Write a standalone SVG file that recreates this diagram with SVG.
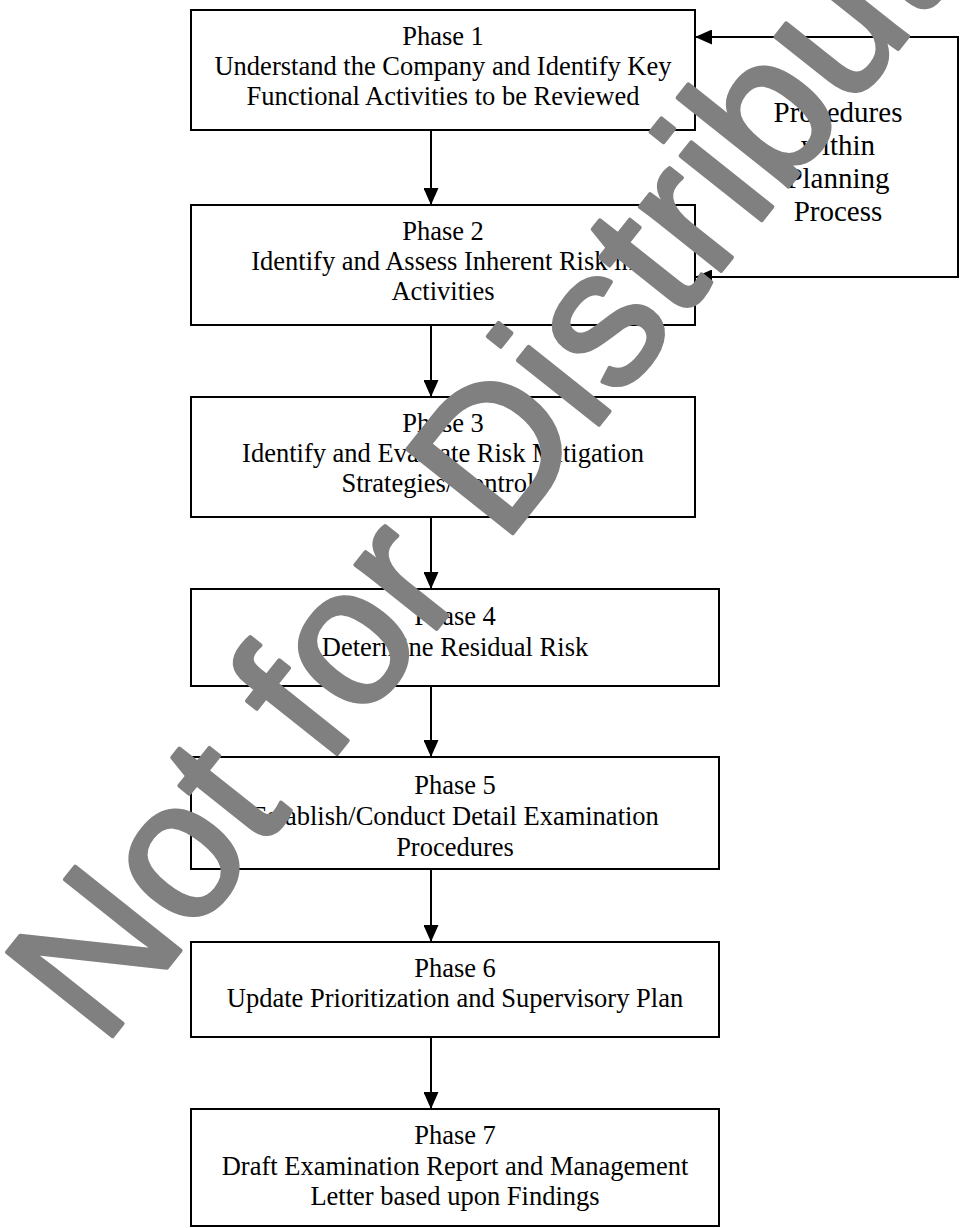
<svg xmlns="http://www.w3.org/2000/svg" width="963" height="1228" viewBox="0 0 963 1228">
<style>
.box{fill:#fff;stroke:#000;stroke-width:2}
.t{font-family:"Liberation Serif","Times New Roman",serif;font-size:26.5px;fill:#000;text-anchor:middle}
.side{font-family:"Liberation Serif","Times New Roman",serif;font-size:29px;fill:#000;text-anchor:middle}
.conn{fill:none;stroke:#000;stroke-width:2}
.wm{font-family:"Liberation Sans",Arial,sans-serif;font-size:196px;fill:#808080;stroke:#808080;stroke-width:4;stroke-linejoin:round}
</style>
<defs>
<marker id="arr" viewBox="0 0 17 15" refX="17" refY="7.5" markerWidth="17" markerHeight="15" markerUnits="userSpaceOnUse" orient="auto-start-reverse">
<path d="M0,0 L17,7.5 L0,15 Z" fill="#000"/>
</marker>
</defs>
<rect width="963" height="1228" fill="#fff"/>
<g id="connectors">
<path class="conn" d="M431,130 V205" marker-end="url(#arr)"/>
<path class="conn" d="M431,325 V397" marker-end="url(#arr)"/>
<path class="conn" d="M431,517 V589" marker-end="url(#arr)"/>
<path class="conn" d="M431,686 V757" marker-end="url(#arr)"/>
<path class="conn" d="M431,869 V942" marker-end="url(#arr)"/>
<path class="conn" d="M431,1037 V1109" marker-end="url(#arr)"/>
<path class="conn" d="M695,37 H958 V277 H695" marker-start="url(#arr)" marker-end="url(#arr)"/>
</g>
<g id="phase1">
<rect class="box" x="191" y="10" width="504" height="120"/>
<text class="t" x="443" y="45">Phase 1</text>
<text class="t" x="443" y="75">Understand the Company and Identify Key</text>
<text class="t" x="443" y="105">Functional Activities to be Reviewed</text>
</g>
<g id="phase2">
<rect class="box" x="191" y="205" width="504" height="120"/>
<text class="t" x="443" y="240">Phase 2</text>
<text class="t" x="443" y="270">Identify and Assess Inherent Risk in</text>
<text class="t" x="443" y="300">Activities</text>
</g>
<g id="phase3">
<rect class="box" x="191" y="397" width="504" height="120"/>
<text class="t" x="443" y="432">Phase 3</text>
<text class="t" x="443" y="462">Identify and Evaluate Risk Mitigation</text>
<text class="t" x="443" y="492">Strategies/Controls</text>
</g>
<g id="phase4">
<rect class="box" x="191" y="589" width="528" height="97"/>
<text class="t" x="455" y="625">Phase 4</text>
<text class="t" x="455" y="656">Determine Residual Risk</text>
</g>
<g id="phase5">
<rect class="box" x="191" y="757" width="528" height="112"/>
<text class="t" x="455" y="794">Phase 5</text>
<text class="t" x="455" y="825">Establish/Conduct Detail Examination</text>
<text class="t" x="455" y="856">Procedures</text>
</g>
<g id="phase6">
<rect class="box" x="191" y="942" width="528" height="95"/>
<text class="t" x="455" y="977">Phase 6</text>
<text class="t" x="455" y="1007">Update Prioritization and Supervisory Plan</text>
</g>
<g id="phase7">
<rect class="box" x="191" y="1109" width="528" height="117"/>
<text class="t" x="455" y="1144">Phase 7</text>
<text class="t" x="455" y="1175">Draft Examination Report and Management</text>
<text class="t" x="455" y="1205">Letter based upon Findings</text>
</g>
<g id="procedures">
<text class="side" x="838" y="122">Procedures</text>
<text class="side" x="838" y="155">within</text>
<text class="side" x="838" y="188">Planning</text>
<text class="side" x="838" y="221">Process</text>
</g>
<g id="watermark">
<text class="wm" transform="translate(102.6,1048.7) rotate(-51.5)">Not for Distribution</text>
</g>
</svg>
